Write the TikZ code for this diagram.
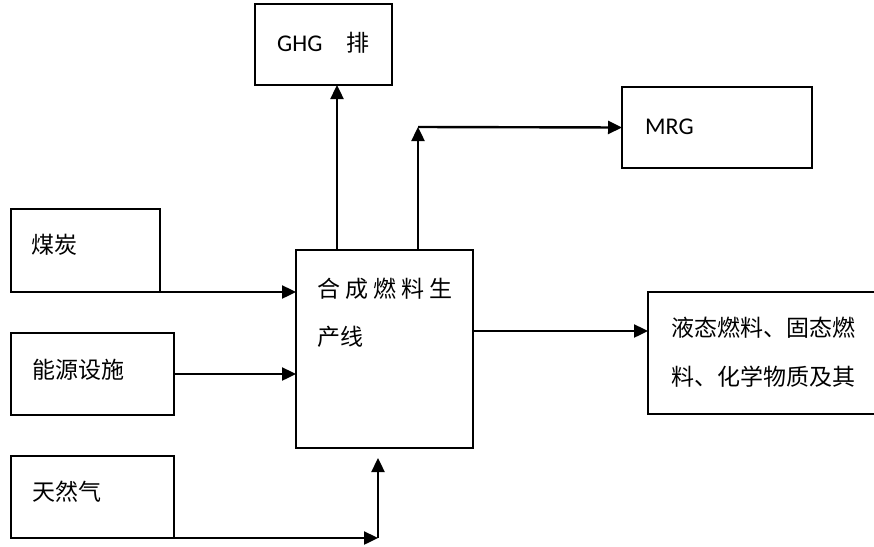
\documentclass[tikz,border=0pt]{standalone}
\usepackage{fontspec}
\setmainfont{Carlito}
\newfontfamily\cjk{Noto Sans CJK SC}
\usetikzlibrary{arrows.meta}
\begin{document}
\begin{tikzpicture}[x=1pt,y=-1pt,
  box/.style={draw,line width=1.8pt,inner sep=0pt,outer sep=0pt,fill=none},
  lbl/.style={anchor=west,inner sep=0pt,font=\cjk\fontsize{23}{27}\selectfont},
  latin/.style={anchor=west,inner sep=0pt,font=\fontsize{24}{28}\selectfont},
  flow/.style={line width=2.4pt,-{Triangle[length=14pt,width=13pt]}}]
\useasboundingbox (0,0) rectangle (874,546);
% boxes
\node[box,minimum width=137pt,minimum height=81pt] (ghg) at (323.5,44.5) {};
\node[box,minimum width=190pt,minimum height=81pt] (mrg) at (717,127.5) {};
\node[box,minimum width=149pt,minimum height=83pt] (coal) at (85.5,250.5) {};
\node[box,minimum width=163pt,minimum height=82pt] (energy) at (92.5,374) {};
\node[box,minimum width=163pt,minimum height=82pt] (gas) at (92.5,497) {};
\node[box,minimum width=177pt,minimum height=198pt] (main) at (384.5,349) {};
\node[box,minimum width=232pt,minimum height=122pt] (out) at (764,353) {};
% texts
\node[latin] (ghgt) at (277,43) {GHG\hspace{24pt}{\cjk\fontsize{23}{27}\selectfont 排}};
\node[latin] (mrgt) at (645,127) {MRG};
\node[lbl] (coalt) at (31,245) {煤炭};
\node[lbl] (energyt) at (32,370) {能源设施};
\node[lbl] (gast) at (32,492) {天然气};
\node[lbl] (main1) at (317,289) {合\hspace{5pt}成\hspace{5pt}燃\hspace{5pt}料\hspace{5pt}生};
\node[lbl] (main2) at (317,337) {产线};
\node[lbl] (out1) at (671,328) {液态燃料、固态燃};
\node[lbl] (out2) at (671,377) {料、化学物质及其};
% connectors
\coordinate (g) at (337,0);
\coordinate (m) at (418,127);
\coordinate (n) at (378,538);
\coordinate (o) at (0,331);
\draw[flow] (main.north -| g) -- (ghg.south -| g);
\draw[flow] (main.north -| m) -- (m);
\draw[flow] (m) -- (mrg.west);
\draw[flow] (coal.south east) -- (main.west |- coal.south east);
\draw[flow] (energy.east) -- (main.west |- energy.east);
\draw[flow] (gas.south east) -- (n);
\draw[flow,shorten >=10pt] (n) -- (main.south -| n);
\draw[flow] (main.east |- o) -- (out.west |- o);
\end{tikzpicture}
\end{document}
